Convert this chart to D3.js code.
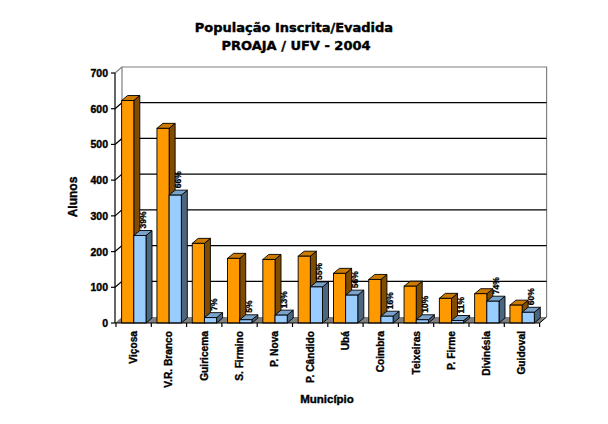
<!DOCTYPE html>
<html><head><meta charset="utf-8">
<script src="https://cdnjs.cloudflare.com/ajax/libs/d3/7.8.5/d3.min.js"></script>
<style>body{margin:0;background:#fff}svg{display:block}</style>
</head><body>
<svg id="c" width="608" height="424"></svg>
<script>
const categories = ["Viçosa","V.R. Branco","Guiricema","S. Firmino","P. Nova","P. Cândido","Ubá","Coimbra","Teixeiras","P. Firme","Divinésia","Guidoval"];
const inscritos = [623, 545, 223, 181, 178, 187, 139, 122, 103, 69, 82, 50];
const evadidos = [245, 358, 15, 9, 22, 101, 78, 19, 9, 7, 61, 30];
const percentLabels = ["39%","66%","7%","5%","13%","55%","56%","16%","10%","11%","74%","60%"];
const yTicks = [0,100,200,300,400,500,600,700];

const svg = d3.select("#c");
const FONT = "'Liberation Sans', Arial, sans-serif";
const x = d3.scaleBand().domain(categories).range([116, 539.6]).paddingInner(0).paddingOuter(0);
const y = d3.scaleLinear().domain([0, 700]).range([323, 73]);
const wx = 7, wy = 6;   // wall depth
const bx = 6, by = 5;   // bar depth
const x0 = 115, x1 = 539.6;

function heavy(sel, w) { return sel.attr("stroke","#000").attr("stroke-width", w).attr("paint-order","stroke"); }

// back wall border
svg.append("path")
  .attr("d", `M${x0+wx},${y(0)-wy}V${y(700)-wy}H${x1+wx}V${y(0)-wy}`)
  .attr("fill","none").attr("stroke","#808080").attr("stroke-width",1.2);
svg.append("line").attr("x1",x0).attr("y1",y(700)).attr("x2",x0+wx).attr("y2",y(700)-wy)
  .attr("stroke","#808080").attr("stroke-width",1.2);

// gridlines
yTicks.filter(t => t > 0 && t < 700).forEach(t => {
  svg.append("path")
    .attr("d", `M${x0},${y(t)}L${x0+wx},${y(t)-wy}H${x1+wx}`)
    .attr("fill","none").attr("stroke","#000").attr("stroke-width",1.2);
});

// floor
svg.append("path")
  .attr("d", `M${x0},${y(0)}L${x1},${y(0)}L${x1+wx},${y(0)-wy}L${x0+wx},${y(0)-wy}Z`)
  .attr("fill","#808080");

// bars
const offs = x.bandwidth()*0.16, bw = x.bandwidth()*0.345;
function bar(g, left, val, cFront, cTop, cSide) {
  const top = y(val), bot = y(0), r = left + bw;
  g.append("path").attr("d", `M${r},${bot}L${r+bx},${bot-by}L${r+bx},${top-by}L${r},${top}Z`)
    .attr("fill", cSide).attr("stroke","#000").attr("stroke-width",0.9).attr("stroke-linejoin","round");
  g.append("path").attr("d", `M${left},${top}L${left+bx},${top-by}L${r+bx},${top-by}L${r},${top}Z`)
    .attr("fill", cTop).attr("stroke","#000").attr("stroke-width",0.9).attr("stroke-linejoin","round");
  g.append("rect").attr("x", left).attr("y", top).attr("width", bw).attr("height", bot-top)
    .attr("fill", cFront).attr("stroke","#000").attr("stroke-width",0.9);
}
const gBars = svg.append("g");
categories.forEach((c, i) => {
  const g = gBars.append("g");
  const left = x(c) + offs;
  bar(g, left, inscritos[i], "#FF9900", "#CC7A00", "#804C00");
  bar(g, left + bw, evadidos[i], "#99CCFF", "#7AA3CC", "#4D6680");
  const cx = left + bw + bw/2 + bx/2;
  heavy(g.append("text")
    .attr("transform", `translate(${cx},${y(evadidos[i]) - by - 2}) rotate(-90)`)
    .attr("text-anchor","start").attr("dominant-baseline","central")
    .attr("font-family", FONT).attr("font-weight","bold").attr("font-size", 8.5)
    .text(percentLabels[i]), 0.3);
});

// axes
const ya = svg.append("g");
ya.append("line").attr("x1",x0).attr("x2",x0).attr("y1",y(0)).attr("y2",y(700)).attr("stroke","#000").attr("stroke-width",1.2);
yTicks.forEach(t => {
  ya.append("line").attr("x1",x0-4).attr("x2",x0).attr("y1",y(t)).attr("y2",y(t)).attr("stroke","#000").attr("stroke-width",1.2);
  heavy(ya.append("text").attr("x", 108).attr("y", y(t)).attr("text-anchor","end").attr("dominant-baseline","central")
    .attr("font-family", FONT).attr("font-weight","bold").attr("font-size", 10.5).text(t), 0.4);
});
const xa = svg.append("g");
xa.append("line").attr("x1",x0).attr("x2",x1).attr("y1",y(0)).attr("y2",y(0)).attr("stroke","#000").attr("stroke-width",1.2);
xa.append("line").attr("x1",x1).attr("x2",x1+wx).attr("y1",y(0)).attr("y2",y(0)-wy).attr("stroke","#000").attr("stroke-width",1);
categories.forEach((c, i) => {
  xa.append("line").attr("x1",x(c)).attr("x2",x(c)).attr("y1",y(0)).attr("y2",y(0)+4).attr("stroke","#000").attr("stroke-width",1.2);
  heavy(xa.append("text").attr("transform", `translate(${x(c)+x.bandwidth()/2},331) rotate(-90)`)
    .attr("text-anchor","end").attr("dominant-baseline","central")
    .attr("font-family", FONT).attr("font-weight","bold").attr("font-size", 10.2).text(c), 0.35);
});
xa.append("line").attr("x1",x1).attr("x2",x1).attr("y1",y(0)).attr("y2",y(0)+4).attr("stroke","#000").attr("stroke-width",1.2);

// titles
heavy(svg.append("text").attr("x", 294).attr("y", 32).attr("text-anchor","middle")
  .attr("font-family","'DejaVu Sans', sans-serif").attr("font-weight","bold").attr("font-size", 13)
  .text("População Inscrita/Evadida"), 0.4);
heavy(svg.append("text").attr("x", 296).attr("y", 50).attr("text-anchor","middle")
  .attr("font-family","'DejaVu Sans', sans-serif").attr("font-weight","bold").attr("font-size", 13)
  .text("PROAJA / UFV - 2004"), 0.4);
heavy(svg.append("text").attr("transform","translate(73,197) rotate(-90)").attr("text-anchor","middle").attr("dominant-baseline","central")
  .attr("font-family", FONT).attr("font-weight","bold").attr("font-size", 12).text("Alunos"), 0.4);
heavy(svg.append("text").attr("x", 327).attr("y", 403).attr("text-anchor","middle")
  .attr("font-family", FONT).attr("font-weight","bold").attr("font-size", 11.5).text("Município"), 0.4);
</script>
</body></html>
